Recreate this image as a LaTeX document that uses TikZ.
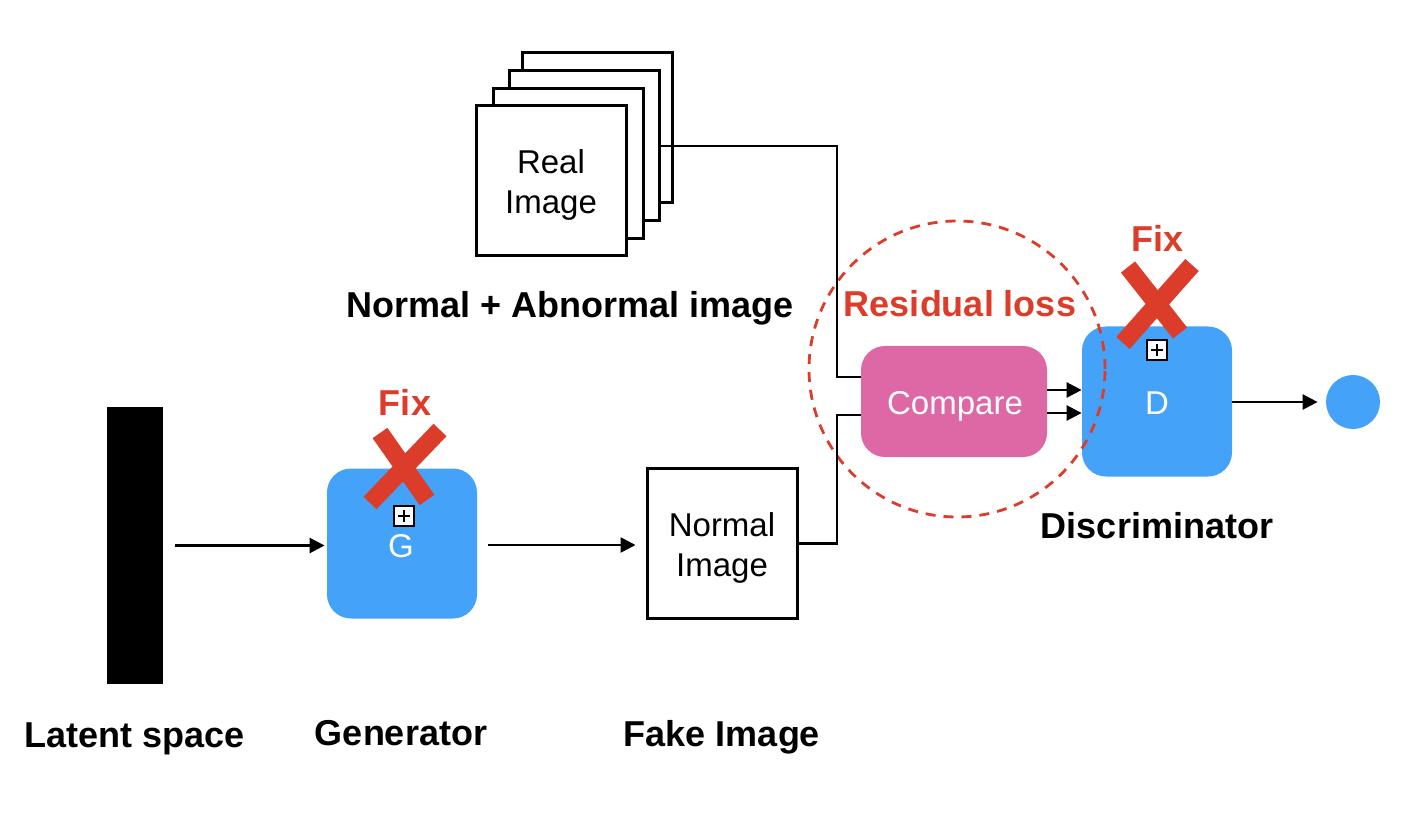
\documentclass[tikz,border=0pt]{standalone}
\usepackage{fontspec}
\setmainfont{Liberation Sans}
\usetikzlibrary{arrows.meta}
\definecolor{nnblue}{RGB}{68,162,248}
\definecolor{nnpink}{RGB}{222,104,165}
\definecolor{nnred}{RGB}{220,61,42}
\tikzset{
  lbl/.style={font=\bfseries\fontsize{18}{21}\selectfont, inner sep=0pt},
  redlbl/.style={lbl, text=nnred},
  txt/.style={font=\fontsize{16.5}{20}\selectfont},
  imgbox/.style={draw=black, line width=1.5pt, fill=white, minimum width=75pt, minimum height=75pt, inner sep=0pt, align=center, txt},
  netbox/.style={fill=nnblue, rounded corners=12pt, minimum width=75pt, minimum height=75pt, inner sep=0pt, text=white, txt},
  cmpbox/.style={fill=nnpink, rounded corners=12pt, minimum width=93pt, minimum height=55.5pt, inner sep=0pt, text=white, txt},
  plusbox/.style={draw=black, fill=white, line width=1pt, minimum size=10pt, inner sep=0pt,
    path picture={
      \draw[line width=0.8pt] ([yshift=-2pt]path picture bounding box.north) -- ([yshift=2pt]path picture bounding box.south);
      \draw[line width=0.8pt] ([xshift=2pt]path picture bounding box.west) -- ([xshift=-2pt]path picture bounding box.east);}},
  arr/.style={line width=1.3pt, -{Triangle[length=7.5pt,width=7.5pt]}},
  conn/.style={line width=1.3pt},
  cross/.style={nnred, line width=9pt, line cap=butt},
}
\begin{document}
\begin{tikzpicture}[x=0.5pt,y=-0.5pt]
\useasboundingbox (0,0) rectangle (1418,828);

% latent space
\node[fill=black, minimum width=28pt, minimum height=138.5pt, inner sep=0pt] (latent) at (135,545.5) {};
\node[lbl] (latentlbl) at (135,739) {Latent space};

% generator
\node[netbox] (G) at (402,543.5) {};
\draw[cross] (380,433) -- (427,500);
\draw[cross] (440,430) -- (370,503);
\node[plusbox] (Gplus) at (404,516) {};
\node[txt, text=white] (Gtxt) at (401,546) {G};
\node[redlbl] (Gfix) at (405,402) {Fix};
\node[lbl] (Glbl) at (401,733) {Generator};

% fake image
\node[imgbox] (normal) at (722,543.5) {};
\node[txt, align=center] (normaltxt) at (722,548) {Normal\\Image};
\node[lbl] (fakelbl) at (722,737) {Fake Image};

% real image stack
\node[imgbox] (real4) at (597,128) {};
\node[imgbox] (real3) at (584,146) {};
\node[imgbox] (real2) at (568,164) {};
\node[imgbox] (real1) at (551,181) {};
\node[txt, align=center] (realtxt) at (551,185) {Real\\Image};
\node[lbl] (reallbl) at (570,308) {Normal + Abnormal image};

% compare
\node[cmpbox] (cmp) at (954,401.5) {};
\node[txt, text=white] (cmptxt) at (955,406) {Compare};

% discriminator
\node[netbox] (D) at (1157,401.5) {};
\draw[cross] (1128,267) -- (1180,333);
\draw[cross] (1192,265) -- (1123,343);
\node[plusbox] (Dplus) at (1157,350) {};
\node[txt, text=white] (Dtxt) at (1157,403) {D};
\node[redlbl] (Dfix) at (1157,238) {Fix};
\node[lbl] (Dlbl) at (1157,526) {Discriminator};

% output
\node[circle, fill=nnblue, minimum size=27pt, inner sep=0pt] (out) at (1353,402) {};

% residual loss circle
\node[circle, draw=nnred, dashed, dash pattern=on 5pt off 4pt, line width=1.4pt, minimum size=148pt, inner sep=0pt] (res) at (957,369) {};
\node[redlbl] (reslbl) at (960,304) {Residual loss};

% connectors
\draw[arr, shorten <=6pt, shorten >=1pt] (latent.east) -- (G.west |- latent.east);
\draw[arr, shorten <=5.5pt, shorten >=5pt] (G.east |- 0,545) -- (normal.west |- 0,545);
\coordinate (j1) at (837,377);
\coordinate (j2) at (837,415);
\draw[conn] (real3.east) -| (j1) -- (cmp.west |- j1);
\draw[conn] (normal.east) -| (j2) -- (cmp.west |- j2);
\draw[arr] (cmp.east |- 0,390) -- (D.west |- 0,390);
\draw[arr] (cmp.east |- 0,413) -- (D.west |- 0,413);
\draw[arr, shorten >=4pt] (D.east |- out.west) -- (out.west);
\end{tikzpicture}
\end{document}
